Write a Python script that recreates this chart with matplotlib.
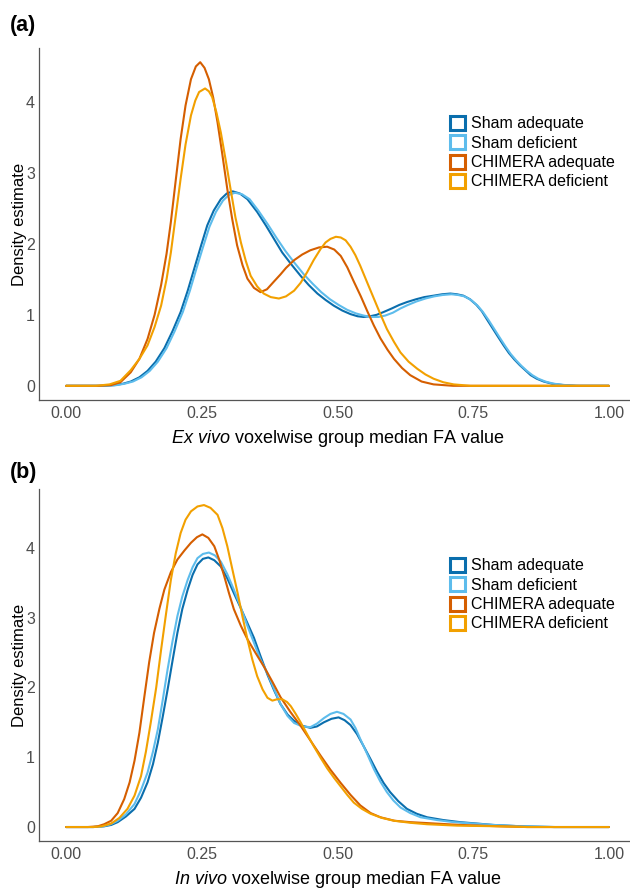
import matplotlib
matplotlib.use("Agg")
import matplotlib.pyplot as plt
from matplotlib.patches import Patch

plt.rcParams['font.family'] = ['Liberation Sans', 'DejaVu Sans']
plt.rcParams['mathtext.fontset'] = 'custom'
plt.rcParams['mathtext.rm'] = 'Liberation Sans'
plt.rcParams['mathtext.it'] = 'Liberation Sans:italic'

groups = ['Sham adequate', 'Sham deficient', 'CHIMERA adequate', 'CHIMERA deficient']
colors = ['#0A6EAD', '#5DBCEC', '#D55E00', '#F2A000']

# ---- panel (a): ex vivo ----
a_sham_ad_x = [0, 0.07, 0.09, 0.105, 0.119, 0.135, 0.150, 0.165, 0.181, 0.196, 0.211, 0.224, 0.236, 0.248,
               0.260, 0.272, 0.285, 0.296, 0.307, 0.320, 0.334, 0.352, 0.368, 0.383, 0.398, 0.415, 0.432,
               0.447, 0.463, 0.478, 0.493, 0.509, 0.524, 0.537, 0.548, 0.560, 0.572, 0.585, 0.600, 0.614,
               0.628, 0.645, 0.660, 0.677, 0.693, 0.708, 0.720, 0.732, 0.744, 0.756, 0.766, 0.775, 0.785,
               0.795, 0.806, 0.816, 0.826, 0.836, 0.846, 0.856, 0.867, 0.880, 0.895, 0.916, 0.94, 1.0]
a_sham_ad_y = [0, 0, 0.01, 0.03, 0.06, 0.12, 0.21, 0.34, 0.53, 0.77, 1.04, 1.34, 1.65, 1.96,
               2.26, 2.47, 2.63, 2.71, 2.74, 2.71, 2.63, 2.45, 2.26, 2.07, 1.88, 1.71, 1.55,
               1.42, 1.30, 1.21, 1.13, 1.06, 1.01, 0.98, 0.97, 0.98, 1.00, 1.04, 1.09, 1.14,
               1.18, 1.22, 1.25, 1.27, 1.29, 1.30, 1.29, 1.27, 1.22, 1.14, 1.05, 0.94, 0.82,
               0.70, 0.57, 0.46, 0.37, 0.29, 0.22, 0.15, 0.10, 0.06, 0.03, 0.01, 0, 0]

a_sham_def_x = [0, 0.07, 0.093, 0.108, 0.123, 0.139, 0.154, 0.169, 0.185, 0.200, 0.215, 0.228, 0.240, 0.252,
                0.264, 0.276, 0.289, 0.300, 0.311, 0.324, 0.338, 0.354, 0.372, 0.388, 0.404, 0.421, 0.438,
                0.454, 0.470, 0.486, 0.502, 0.518, 0.534, 0.548, 0.562, 0.575, 0.588, 0.602, 0.616, 0.630,
                0.646, 0.662, 0.678, 0.694, 0.710, 0.722, 0.734, 0.746, 0.758, 0.768, 0.778, 0.788, 0.798,
                0.809, 0.819, 0.829, 0.839, 0.849, 0.859, 0.870, 0.883, 0.898, 0.920, 0.945, 1.0]
a_sham_def_y = [0, 0, 0.01, 0.03, 0.06, 0.12, 0.21, 0.34, 0.53, 0.77, 1.04, 1.34, 1.65, 1.95,
                2.24, 2.45, 2.61, 2.69, 2.72, 2.70, 2.63, 2.47, 2.27, 2.08, 1.90, 1.73, 1.57,
                1.44, 1.32, 1.22, 1.14, 1.07, 1.02, 0.99, 0.97, 0.97, 0.99, 1.03, 1.09, 1.14,
                1.19, 1.23, 1.26, 1.28, 1.29, 1.28, 1.26, 1.21, 1.13, 1.04, 0.93, 0.81, 0.69,
                0.56, 0.45, 0.36, 0.28, 0.21, 0.15, 0.10, 0.06, 0.03, 0.01, 0, 0]

a_chim_ad_x = [0, 0.06, 0.083, 0.10, 0.119, 0.135, 0.150, 0.163, 0.175, 0.185, 0.193, 0.202, 0.211, 0.220,
               0.230, 0.239, 0.247, 0.255, 0.263, 0.271, 0.279, 0.288, 0.297, 0.306, 0.315, 0.325, 0.334,
               0.346, 0.358, 0.370, 0.383, 0.395, 0.405, 0.420, 0.435, 0.450, 0.466, 0.481, 0.494, 0.506,
               0.518, 0.530, 0.543, 0.555, 0.567, 0.579, 0.592, 0.604, 0.619, 0.634, 0.655, 0.677, 0.713, 1.0]
a_chim_ad_y = [0, 0, 0.01, 0.05, 0.19, 0.38, 0.66, 1.00, 1.42, 1.86, 2.31, 2.90, 3.48, 3.95,
               4.32, 4.50, 4.56, 4.48, 4.32, 4.06, 3.71, 3.25, 2.77, 2.35, 1.98, 1.70, 1.51,
               1.38, 1.32, 1.36, 1.47, 1.57, 1.66, 1.77, 1.85, 1.91, 1.95, 1.96, 1.92, 1.83,
               1.67, 1.47, 1.26, 1.05, 0.85, 0.67, 0.51, 0.38, 0.25, 0.15, 0.06, 0.02, 0, 0]

a_chim_def_x = [0, 0.055, 0.08, 0.10, 0.119, 0.135, 0.150, 0.163, 0.175, 0.185, 0.193, 0.202, 0.211, 0.220,
                0.230, 0.238, 0.245, 0.256, 0.263, 0.269, 0.277, 0.285, 0.294, 0.303, 0.312, 0.322, 0.331,
                0.340, 0.352, 0.364, 0.377, 0.392, 0.405, 0.420, 0.432, 0.444, 0.456, 0.469, 0.478, 0.487,
                0.497, 0.506, 0.515, 0.524, 0.533, 0.542, 0.555, 0.567, 0.579, 0.591, 0.604, 0.616, 0.631,
                0.647, 0.662, 0.677, 0.695, 0.714, 0.745, 1.0]
a_chim_def_y = [0, 0, 0.02, 0.07, 0.22, 0.38, 0.57, 0.83, 1.13, 1.50, 1.88, 2.40, 2.92, 3.40,
                3.81, 4.02, 4.14, 4.19, 4.15, 4.07, 3.85, 3.57, 3.18, 2.77, 2.37, 2.02, 1.76,
                1.55, 1.40, 1.30, 1.25, 1.23, 1.26, 1.34, 1.45, 1.60, 1.77, 1.93, 2.02, 2.07,
                2.10, 2.09, 2.05, 1.96, 1.84, 1.69, 1.45, 1.23, 1.01, 0.80, 0.62, 0.47, 0.34,
                0.24, 0.16, 0.10, 0.05, 0.02, 0, 0]

# ---- panel (b): in vivo ----
b_sham_ad_x = [0, 0.05, 0.07, 0.083, 0.095, 0.110, 0.126, 0.138, 0.150, 0.160, 0.169, 0.178, 0.187, 0.196,
               0.205, 0.214, 0.224, 0.233, 0.242, 0.252, 0.262, 0.273, 0.285, 0.297, 0.309, 0.322, 0.334,
               0.346, 0.358, 0.371, 0.383, 0.395, 0.408, 0.420, 0.435, 0.450, 0.462, 0.475, 0.489, 0.502,
               0.513, 0.524, 0.536, 0.548, 0.561, 0.573, 0.585, 0.597, 0.612, 0.628, 0.646, 0.665, 0.695,
               0.726, 0.757, 0.787, 0.84, 0.90, 1.0]
b_sham_ad_y = [0, 0, 0.01, 0.03, 0.07, 0.15, 0.26, 0.42, 0.64, 0.90, 1.21, 1.58, 1.97, 2.38,
               2.78, 3.12, 3.40, 3.61, 3.76, 3.84, 3.86, 3.82, 3.73, 3.56, 3.35, 3.13, 2.92,
               2.71, 2.45, 2.18, 1.96, 1.76, 1.61, 1.52, 1.45, 1.42, 1.44, 1.50, 1.55, 1.57,
               1.53, 1.46, 1.33, 1.16, 0.97, 0.79, 0.63, 0.50, 0.37, 0.26, 0.19, 0.14, 0.10,
               0.07, 0.05, 0.03, 0.01, 0, 0]

b_sham_def_x = [0, 0.05, 0.068, 0.082, 0.095, 0.110, 0.126, 0.138, 0.150, 0.160, 0.169, 0.178, 0.187, 0.196,
                0.205, 0.214, 0.224, 0.233, 0.242, 0.252, 0.263, 0.274, 0.285, 0.297, 0.309, 0.322, 0.334,
                0.346, 0.358, 0.371, 0.383, 0.395, 0.408, 0.420, 0.435, 0.450, 0.462, 0.475, 0.487, 0.499,
                0.511, 0.524, 0.533, 0.542, 0.555, 0.567, 0.579, 0.591, 0.603, 0.616, 0.634, 0.653, 0.683,
                0.714, 0.750, 0.787, 0.84, 0.90, 1.0]
b_sham_def_y = [0, 0, 0.01, 0.04, 0.09, 0.18, 0.33, 0.53, 0.78, 1.08, 1.40, 1.82, 2.26, 2.66,
                3.02, 3.30, 3.54, 3.72, 3.85, 3.91, 3.93, 3.89, 3.80, 3.62, 3.40, 3.14, 2.88,
                2.64, 2.40, 2.20, 1.98, 1.76, 1.59, 1.49, 1.44, 1.43, 1.48, 1.56, 1.62, 1.65,
                1.62, 1.54, 1.42, 1.26, 1.04, 0.83, 0.65, 0.50, 0.38, 0.28, 0.20, 0.14, 0.10,
                0.07, 0.05, 0.03, 0.01, 0, 0]

b_chim_ad_x = [0, 0.04, 0.058, 0.070, 0.083, 0.095, 0.107, 0.117, 0.126, 0.135, 0.144, 0.153, 0.162, 0.172,
               0.181, 0.193, 0.205, 0.218, 0.230, 0.241, 0.251, 0.262, 0.273, 0.282, 0.291, 0.300, 0.309,
               0.322, 0.334, 0.350, 0.365, 0.380, 0.395, 0.413, 0.432, 0.450, 0.469, 0.487, 0.506, 0.524,
               0.542, 0.561, 0.579, 0.605, 0.634, 0.680, 0.726, 0.80, 0.85, 1.0]
b_chim_ad_y = [0, 0, 0.01, 0.04, 0.09, 0.20, 0.40, 0.64, 0.95, 1.35, 1.86, 2.36, 2.78, 3.13,
               3.40, 3.65, 3.83, 3.96, 4.07, 4.15, 4.19, 4.14, 4.02, 3.83, 3.60, 3.35, 3.12,
               2.88, 2.69, 2.48, 2.29, 2.08, 1.86, 1.65, 1.45, 1.24, 1.02, 0.82, 0.63, 0.46,
               0.31, 0.20, 0.14, 0.09, 0.07, 0.05, 0.03, 0.01, 0, 0]

b_chim_def_x = [0, 0.05, 0.065, 0.083, 0.098, 0.113, 0.126, 0.138, 0.147, 0.156, 0.166, 0.175, 0.184, 0.193,
                0.202, 0.211, 0.220, 0.230, 0.242, 0.254, 0.266, 0.279, 0.288, 0.297, 0.306, 0.316, 0.325,
                0.334, 0.343, 0.352, 0.362, 0.371, 0.380, 0.389, 0.398, 0.407, 0.414, 0.423, 0.432, 0.444,
                0.456, 0.469, 0.481, 0.494, 0.506, 0.518, 0.530, 0.545, 0.561, 0.582, 0.604, 0.635, 0.665,
                0.72, 0.80, 0.85, 1.0]
b_chim_def_y = [0, 0, 0.01, 0.05, 0.13, 0.26, 0.45, 0.73, 1.08, 1.50, 2.00, 2.54, 3.05, 3.54,
                3.92, 4.21, 4.40, 4.52, 4.59, 4.61, 4.57, 4.47, 4.28, 4.02, 3.70, 3.35, 3.01,
                2.69, 2.40, 2.16, 1.97, 1.85, 1.81, 1.83, 1.83, 1.79, 1.73, 1.62, 1.50, 1.33,
                1.16, 0.99, 0.84, 0.70, 0.58, 0.46, 0.35, 0.26, 0.19, 0.13, 0.09, 0.06, 0.04,
                0.02, 0.01, 0, 0]

x_ticks = [0.00, 0.25, 0.50, 0.75, 1.00]
x_tick_labels = ['0.00', '0.25', '0.50', '0.75', '1.00']
y_ticks = [0, 1, 2, 3, 4]

fig = plt.figure(figsize=(6.3, 8.88), dpi=100)
W, H = 630, 888


def panel(top_px, curves, ylim, xlabel, tag, tag_y_px, leg_top_px):
    # axes placed in pixel terms of the 630x888 figure
    ax = fig.add_axes([39 / W, 1 - (top_px + 352) / H, 597 / W, 352 / H])
    for (xs, ys), c in zip(curves, colors):
        ax.plot(xs, ys, color=c, lw=1.5, solid_capstyle='round', solid_joinstyle='round')
    ax.set_xlim(-0.05, 1.05)
    ax.set_ylim(*ylim)
    ax.set_xticks(x_ticks)
    ax.set_xticklabels(x_tick_labels)
    ax.set_yticks(y_ticks)
    ax.tick_params(length=0, labelsize=11.5, labelcolor='#4d4d4d')
    ax.tick_params(axis='y', pad=3)
    ax.tick_params(axis='x', pad=4)
    for s in ['top', 'right']:
        ax.spines[s].set_visible(False)
    for s in ['left', 'bottom']:
        ax.spines[s].set_color('#555555')
        ax.spines[s].set_linewidth(0.9)
    ax.set_xlabel(xlabel, fontsize=13, labelpad=5)
    ax.set_ylabel('Density estimate', fontsize=12, labelpad=-1)
    fig.text(10 / W, 1 - tag_y_px / H, tag, fontsize=15.5, fontweight='bold', va='center', ha='left')
    handles = [Patch(facecolor='white', edgecolor=c, linewidth=2.2) for c in colors]
    ax.legend(handles, groups, loc='upper left', bbox_to_anchor=(450 / W, 1 - leg_top_px / H),
              bbox_transform=fig.transFigure, frameon=False, fontsize=11.5,
              handlelength=0.95, handleheight=0.95, handletextpad=0.35, labelspacing=0.25,
              borderpad=0, borderaxespad=0)
    return ax


ax_a = panel(48, [(a_sham_ad_x, a_sham_ad_y), (a_sham_def_x, a_sham_def_y),
                  (a_chim_ad_x, a_chim_ad_y), (a_chim_def_x, a_chim_def_y)],
             (-0.2, 4.76), r'$Ex\ vivo$ voxelwise group median FA value', '(a)', 25, 116)
ax_b = panel(489, [(b_sham_ad_x, b_sham_ad_y), (b_sham_def_x, b_sham_def_y),
                   (b_chim_ad_x, b_chim_ad_y), (b_chim_def_x, b_chim_def_y)],
             (-0.2, 4.84), r'$In\ vivo$ voxelwise group median FA value', '(b)', 472, 558)

fig.savefig('out.png', dpi=100)
